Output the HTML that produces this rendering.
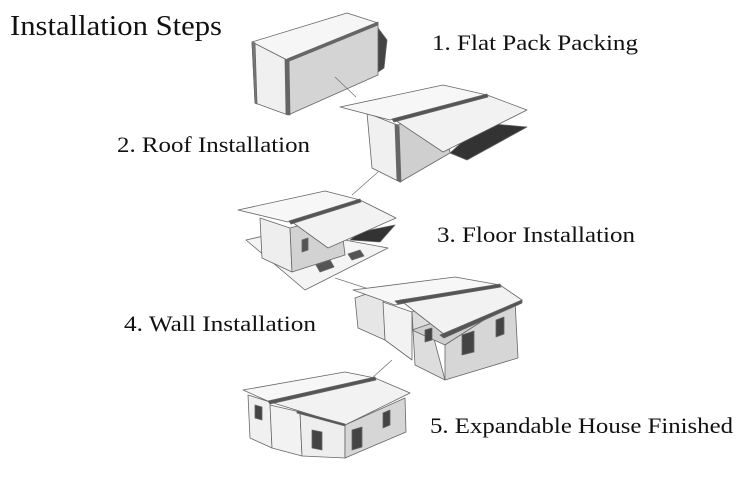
<!DOCTYPE html>
<html><head><meta charset="utf-8"><style>
html,body{margin:0;padding:0;background:#fff;}
svg{display:block}
text{font-family:"Liberation Serif",serif;fill:#111}
</style></head><body>
<svg width="750" height="500" viewBox="0 0 750 500">
<g stroke="#666" stroke-width="0.8" stroke-linejoin="round">
<!-- House 1 -->
<polygon points="378,28 387,40 384,68 378,72" fill="#444"/>
<polygon points="252,42 347,13 378,23 287,60" fill="#f6f6f6"/>
<polygon points="287,60 378,23 378,75 288,115" fill="#d4d4d4"/>
<polygon points="252,42 287,60 288,115 255,103" fill="#f0f0f0"/>
<polygon points="285,59 289,61 290,115 286,114" fill="#666"/>
<polygon points="287,59 378,22 378,25 287,62" fill="#666"/>
<polygon points="252,42 255,43 257,104 255,103" fill="#777"/>
<line x1="335" y1="77" x2="356" y2="97" stroke="#777"/>
<!-- House 2 -->
<polygon points="483,123 527,127 467,160 450,153" fill="#333"/>
<polygon points="367,113 397,125 400,182 372,168" fill="#f0f0f0"/>
<polygon points="397,125 445,110 450,153 400,182" fill="#cfcfcf"/>
<polygon points="340,107 443,85 487,95 390,120" fill="#f7f7f7"/>
<polygon points="395,120 487,95 527,110 443,152" fill="#f2f2f2"/>
<polygon points="392,119 487,94 488,97 394,122" fill="#555"/>
<polygon points="395,124 399,126 401,182 397,180" fill="#666"/>
<line x1="378" y1="172" x2="352" y2="195" stroke="#777"/>
<!-- House 3 -->
<polygon points="360,232 395,225 380,242 350,240" fill="#333"/>
<polygon points="246,240 290,230 388,248 305,290" fill="#f4f4f4"/>
<polygon points="260,218 290,228 292,272 262,258" fill="#eeeeee"/>
<polygon points="290,228 340,214 345,255 292,272" fill="#d2d2d2"/>
<polygon points="238,210 325,191 360,200 288,222" fill="#f7f7f7"/>
<polygon points="292,222 360,200 396,218 328,248" fill="#f2f2f2"/>
<polygon points="289,221 360,199 361,202 291,224" fill="#555"/>
<polygon points="316,265 330,260 334,267 320,272" fill="#555"/>
<polygon points="348,254 360,250 364,256 352,260" fill="#555"/>
<polygon points="302,240 308,238 308,250 302,252" fill="#555"/>
<line x1="335" y1="278" x2="372" y2="290" stroke="#777"/>
<!-- House 4 -->
<polygon points="355,298 383,288 385,340 358,328" fill="#e6e6e6"/>
<polygon points="383,302 412,312 412,360 385,340" fill="#f2f2f2"/>
<polygon points="412,312 425,305 445,380 415,365" fill="#ddd"/>
<polygon points="412,330 470,310 515,300 445,345" fill="#cfcfcf"/>
<polygon points="445,345 515,300 518,358 445,380" fill="#d6d6d6"/>
<polygon points="353,290 455,277 500,285 395,305" fill="#f7f7f7"/>
<polygon points="400,300 500,285 522,300 445,335" fill="#f2f2f2"/>
<polygon points="395,301 500,284 501,287 398,304" fill="#555"/>
<polygon points="440,335 522,300 522,303 444,338" fill="#555"/>
<polygon points="462,335 474,331 474,352 462,355" fill="#444"/>
<polygon points="496,320 504,317 504,334 496,337" fill="#444"/>
<polygon points="425,330 432,328 432,340 425,342" fill="#444"/>
<line x1="392" y1="360" x2="372" y2="378" stroke="#777"/>
<!-- House 5 -->
<polygon points="248,395 270,402 272,448 250,438" fill="#f0f0f0"/>
<polygon points="270,405 300,412 302,456 272,448" fill="#f2f2f2"/>
<polygon points="300,412 345,425 345,458 302,456" fill="#eeeeee"/>
<polygon points="345,425 405,398 406,432 345,458" fill="#d6d6d6"/>
<polygon points="243,390 345,372 375,378 270,402" fill="#f7f7f7"/>
<polygon points="270,402 375,378 410,393 345,425" fill="#f2f2f2"/>
<polygon points="268,401 375,377 376,380 270,404" fill="#555"/>
<polygon points="297,411 345,424 345,426 297,413" fill="#555"/>
<polygon points="255,405 262,407 262,420 255,418" fill="#444"/>
<polygon points="312,430 322,432 322,450 312,448" fill="#444"/>
<polygon points="352,430 362,427 362,447 352,450" fill="#444"/>
<polygon points="383,413 390,410 390,425 383,428" fill="#444"/>
</g>
<text x="10" y="35" font-size="29" textLength="212" lengthAdjust="spacingAndGlyphs">Installation Steps</text>
<text x="432" y="50" font-size="22" textLength="206" lengthAdjust="spacingAndGlyphs">1. Flat Pack Packing</text>
<text x="117" y="152" font-size="22" textLength="193" lengthAdjust="spacingAndGlyphs">2. Roof Installation</text>
<text x="437" y="242" font-size="22" textLength="198" lengthAdjust="spacingAndGlyphs">3. Floor Installation</text>
<text x="124" y="331" font-size="22" textLength="192" lengthAdjust="spacingAndGlyphs">4. Wall Installation</text>
<text x="430" y="433" font-size="22" textLength="303" lengthAdjust="spacingAndGlyphs">5. Expandable House Finished</text>
</svg>
</body></html>
